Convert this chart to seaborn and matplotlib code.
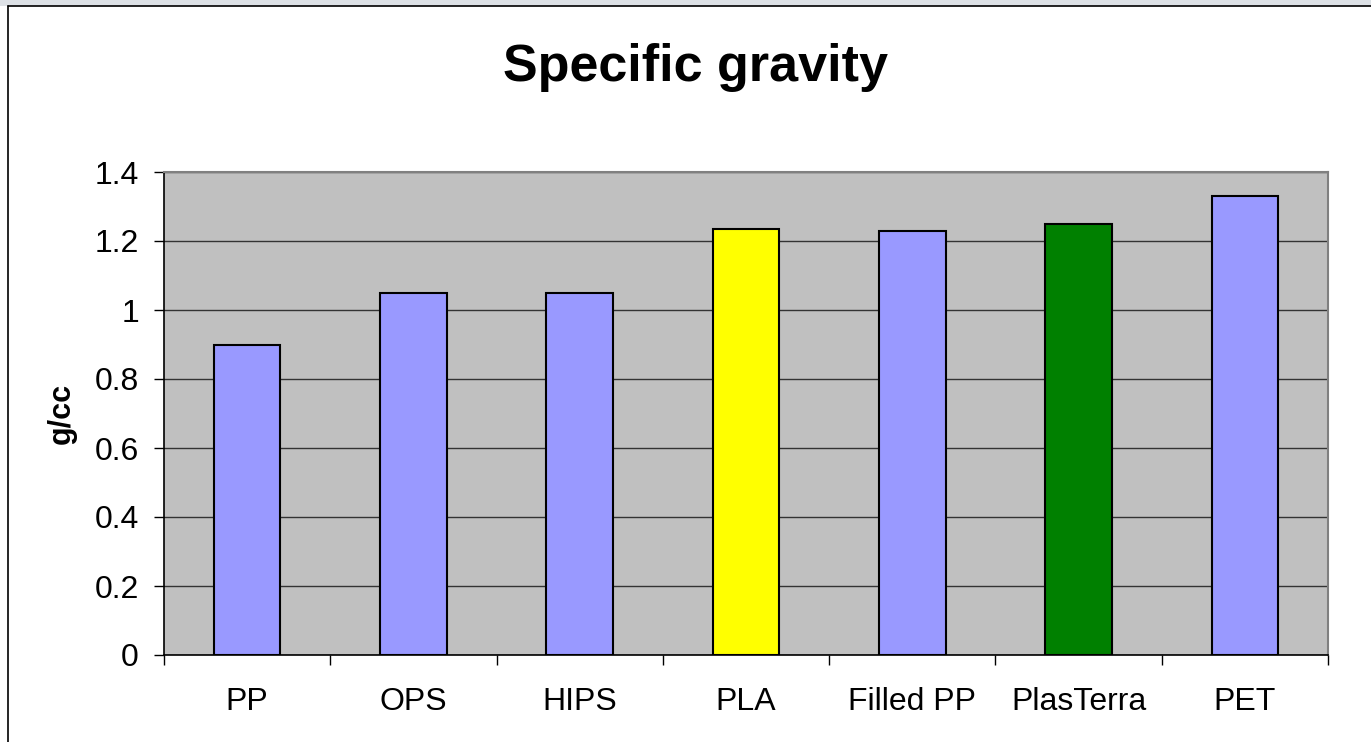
import matplotlib
matplotlib.use("Agg")
import matplotlib.pyplot as plt
import seaborn as sns
import pandas as pd
from matplotlib.lines import Line2D
from matplotlib.patches import Rectangle

# values
materials = ['PP', 'OPS', 'HIPS', 'PLA', 'Filled PP', 'PlasTerra', 'PET']
gravity = [0.90, 1.05, 1.05, 1.235, 1.23, 1.25, 1.33]
bar_colors = ['#9999FF', '#9999FF', '#9999FF', '#FFFF00', '#9999FF', '#008000', '#9999FF']
y_ticks = [0, 0.2, 0.4, 0.6, 0.8, 1.0, 1.2, 1.4]

df = pd.DataFrame({'material': materials, 'gravity': gravity})

sns.set_style('white')
plt.rcParams['font.family'] = ['Liberation Sans', 'DejaVu Sans']
plt.rcParams['text.color'] = 'black'
plt.rcParams['axes.labelcolor'] = 'black'
plt.rcParams['xtick.color'] = 'black'
plt.rcParams['ytick.color'] = 'black'

fig = plt.figure(figsize=(13.71, 7.42), dpi=100)
ax = fig.add_axes([164 / 1371, 1 - 655 / 742, (1328 - 164) / 1371, (655 - 172) / 742])
ax.set_facecolor('#C0C0C0')

sns.barplot(data=df, x='material', y='gravity', hue='material',
            palette=dict(zip(materials, bar_colors)), legend=False,
            width=0.4, edgecolor='black', linewidth=1.5, saturation=1, ax=ax, zorder=3)

ax.set_xlim(-0.5, len(materials) - 0.5)
ax.set_ylim(0, 1.4)
ax.set_yticks(y_ticks)
ax.set_yticklabels(['%g' % v for v in y_ticks])
ax.grid(axis='y', color='#333333', linewidth=1, zorder=0)
ax.set_axisbelow(True)

# category boundary ticks, labels in between
ax.set_xticks([i - 0.5 for i in range(len(materials) + 1)])
ax.set_xticklabels([])
ax.set_xticks(range(len(materials)), minor=True)
ax.set_xticklabels(materials, minor=True)
ax.tick_params(axis='x', which='major', direction='out', length=7, width=1, color='black', bottom=True)
ax.tick_params(axis='x', which='minor', length=0, pad=23, labelsize=23, labelcolor='black')
ax.tick_params(axis='y', direction='out', length=7, width=1, color='black', left=True, pad=11,
               labelsize=23, labelcolor='black')

for side in ['top', 'right']:
    ax.spines[side].set_color('#808080')
    ax.spines[side].set_linewidth(1.5)
for side in ['left', 'bottom']:
    ax.spines[side].set_color('black')
    ax.spines[side].set_linewidth(1.2)

ax.set_xlabel('')
ax.set_ylabel('g/cc', fontsize=22, fontweight='bold', labelpad=13, color='black')

fig.text(695 / 1371, 1 - 68 / 742, 'Specific gravity', ha='center', va='center',
         fontsize=37.5, fontweight='bold', color='black')

# outer frame of the slide chart
top_y = 1 - 6 / 742
fig.patches.append(Rectangle((0, top_y), 1, 1 - top_y, transform=fig.transFigure,
                             facecolor='#DDE1E6', edgecolor='none', zorder=0))
fig.lines.append(Line2D([8 / 1371, 8 / 1371], [0, top_y], transform=fig.transFigure,
                        color='black', linewidth=1.2))
fig.lines.append(Line2D([8 / 1371, 1], [top_y, top_y], transform=fig.transFigure,
                        color='black', linewidth=1.2))

fig.savefig('out.png', dpi=100, facecolor='white')
